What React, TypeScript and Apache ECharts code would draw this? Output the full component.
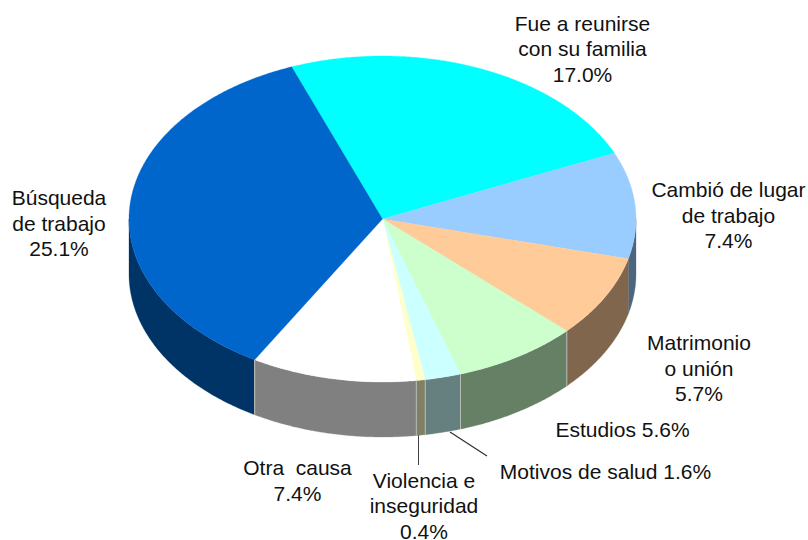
import React, { useEffect, useRef } from "react";
import * as echarts from "echarts";

const categories = [
  "Fue a reunirse con su familia",
  "Cambió de lugar de trabajo",
  "Matrimonio o unión",
  "Estudios",
  "Motivos de salud",
  "Violencia e inseguridad",
  "Otra causa",
  "Búsqueda de trabajo",
];
const values = [17.0, 7.4, 5.7, 5.6, 1.6, 0.4, 7.4, 25.1];
const topColors = ["#00FFFF", "#99CCFF", "#FFCC99", "#CCFFCC", "#CCFFFF", "#FFFFCC", "#FFFFFF", "#0066CC"];
const sideColors = ["#008080", "#4D6680", "#80664D", "#668066", "#668080", "#808066", "#808080", "#003366"];
const labelTexts = [
  "Fue a reunirse\ncon su familia\n17.0%",
  "Cambió de lugar\nde trabajo\n7.4%",
  "Matrimonio\no unión\n5.7%",
  "Estudios 5.6%",
  "Motivos de salud 1.6%",
  "Violencia e\ninseguridad\n0.4%",
  "Otra  causa\n7.4%",
  "Búsqueda\nde trabajo\n25.1%",
];
const labelCenters = [
  [582.5, 48.5],
  [728.5, 215],
  [699, 368],
  [622.5, 429],
  [605.5, 471],
  [424, 505.5],
  [297.5, 480.5],
  [59, 223],
];

const CX = 382.5;
const CY = 219;
const RX = 253.5;
const RY = 163;
const DEPTH = 55;
const START_DEG = -21;
const total = values.reduce((a, b) => a + b, 0);

const pt = (deg: number, dy = 0): number[] => {
  const r = (deg * Math.PI) / 180;
  return [CX + RX * Math.sin(r), CY - RY * Math.cos(r) + dy];
};

const arcPoints = (a: number, b: number, dy = 0): number[][] => {
  const n = Math.max(2, Math.ceil(Math.abs(b - a) / 0.5));
  const out: number[][] = [];
  for (let i = 0; i <= n; i++) out.push(pt(a + ((b - a) * i) / n, dy));
  return out;
};

const renderItem = (params: any, api: any) => {
  const idx = params.dataIndex;
  let before = 0;
  for (let i = 0; i < idx; i++) before += values[i];
  const a = START_DEG + (before / total) * 360;
  const b = a + (api.value(0) / total) * 360;
  const children: any[] = [];
  const sa = Math.max(a, 90);
  const sb = Math.min(b, 270);
  if (sb > sa) {
    const front = arcPoints(sa, sb);
    const back = arcPoints(sa, sb, DEPTH).reverse();
    children.push({
      type: "polygon",
      shape: { points: front.concat(back) },
      style: { fill: sideColors[idx], stroke: sideColors[idx], lineWidth: 0.3 },
    });
  }
  if (a >= 90 && a <= 270 && idx > 2) {
    const p = pt(a);
    children.push({
      type: "line",
      shape: { x1: p[0], y1: p[1], x2: p[0], y2: p[1] + DEPTH },
      style: { stroke: "#B4BCB4", lineWidth: 1 },
    });
  }
  if (idx === values.length - 1) {
    const p = pt(a);
    children.push({
      type: "line",
      shape: { x1: p[0], y1: p[1], x2: p[0], y2: p[1] + DEPTH },
      style: { stroke: "#B4B4B4", lineWidth: 1 },
    });
  }
  children.push({
    type: "polygon",
    shape: { points: [[CX, CY]].concat(arcPoints(a, b)) },
    style: { fill: topColors[idx], stroke: topColors[idx], lineWidth: 0.3 },
  });
  return { type: "group", children };
};

export default function App() {
  const ref = useRef<HTMLDivElement>(null);
  useEffect(() => {
    const chart = echarts.init(ref.current!, undefined, { renderer: "svg" });
    chart.setOption({
      animation: false,
      backgroundColor: "#ffffff",
      series: [
        {
          type: "custom",
          coordinateSystem: "none",
          silent: true,
          clip: false,
          renderItem,
          data: values.map((v, i) => ({ name: categories[i], value: [v] })),
        },
      ],
      graphic: [
        {
          type: "line",
          shape: { x1: 418.5, y1: 435, x2: 418.5, y2: 465 },
          style: { stroke: "#404040", lineWidth: 1 },
        },
        {
          type: "line",
          shape: { x1: 450, y1: 432, x2: 487, y2: 456 },
          style: { stroke: "#303030", lineWidth: 1.2 },
        },
        ...labelTexts.map((t, i) => ({
          type: "text",
          x: labelCenters[i][0],
          y: labelCenters[i][1],
          style: {
            text: t,
            align: "center",
            verticalAlign: "middle",
            font: '21px "Liberation Sans", Arial, sans-serif',
            lineHeight: 25.5,
            fill: "#111111",
          },
        })),
      ],
    });
    return () => chart.dispose();
  }, []);
  return (
    <div
      ref={ref}
      style={{ position: "fixed", left: 0, top: 0, width: 808, height: 540 }}
    />
  );
}
